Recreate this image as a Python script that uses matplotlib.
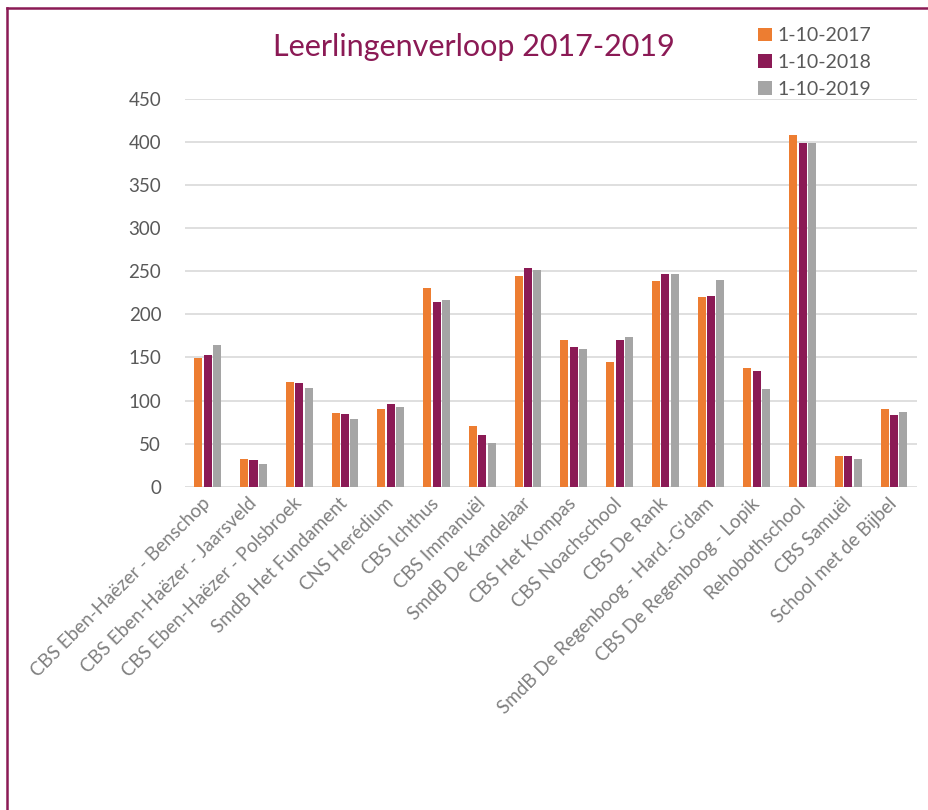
""" Bar chart of pupil numbers per school, 2017-2019. """

import numpy as np
from matplotlib import pyplot as plt
from matplotlib.lines import Line2D
from matplotlib.patches import Patch

plt.rcParams['font.family'] = ['Lato', 'DejaVu Sans']

# Data
schools = ['CBS Eben-Haëzer - Benschop', 'CBS Eben-Haëzer - Jaarsveld',
           'CBS Eben-Haëzer - Polsbroek', 'SmdB Het Fundament',
           'CNS Herédium', 'CBS Ichthus', 'CBS Immanuël',
           'SmdB De Kandelaar', 'CBS Het Kompas', 'CBS Noachschool',
           'CBS De Rank', "SmdB De Regenboog - Hard.-G'dam",
           'CBS De Regenboog - Lopik', 'Rehobothschool', 'CBS Samuël',
           'School met de Bijbel']
y2017 = [149, 32, 122, 86, 90, 231, 70, 244, 170, 145, 239, 220, 138, 408, 36, 90]
y2018 = [153, 31, 120, 84, 96, 214, 60, 254, 162, 170, 247, 221, 134, 399, 36, 83]
y2019 = [164, 26, 115, 79, 92, 217, 51, 251, 160, 174, 247, 240, 114, 399, 32, 87]
series_labels = ['1-10-2017', '1-10-2018', '1-10-2019']
colors = ['#ED7D31', '#8B1A55', '#A5A5A5']

title_color = '#8B1A55'
txt_color = '#595959'

fig = plt.figure(figsize=(9.29, 8.10), dpi=100)
ax = fig.add_axes([0.199, 0.399, 0.788, 0.479])

x = np.arange(len(schools))
step = 0.205
width = 0.175
for i, (vals, clr, lbl) in enumerate(zip([y2017, y2018, y2019], colors,
                                         series_labels)):
    ax.bar(x + (i - 1) * step, vals, width=width, color=clr, label=lbl,
           zorder=3)

# Axes
ax.set_xlim(-0.5, len(schools) - 0.5)
ax.set_ylim(0, 450)
ax.set_yticks(np.arange(0, 451, 50))
ax.yaxis.grid(True, color='#D9D9D9', lw=1.2, zorder=0)
for s in ax.spines.values():
    s.set_visible(False)
ax.tick_params(axis='both', length=0, labelsize=13.5, labelcolor=txt_color)
ax.tick_params(axis='y', pad=17)
ax.set_xticks(x)
ax.set_xticklabels(schools, rotation=45, ha='right', va='center',
                   rotation_mode='anchor', fontsize=13.5, color='#808080')
ax.tick_params(axis='x', pad=10)

# Title
fig.text(0.51, 0.942, 'Leerlingenverloop 2017-2019', ha='center',
         va='center', fontsize=22, color=title_color)

# Legend
handles = [Patch(facecolor=c, label=l) for c, l in zip(colors, series_labels)]
fig.legend(handles=handles, loc='upper left', bbox_to_anchor=(0.797, 0.988),
           frameon=False, fontsize=14, handlelength=0.7, handleheight=0.7,
           handletextpad=0.3, labelspacing=0.5, labelcolor=txt_color)

# Frame
fig.add_artist(Line2D([7 / 929, 1], [1 - 8 / 810] * 2, color=title_color, lw=1.8,
                      transform=fig.transFigure))
fig.add_artist(Line2D([7 / 929] * 2, [0, 1 - 8 / 810], color=title_color, lw=1.8,
                      transform=fig.transFigure))

plt.savefig('out.png', dpi=100)
